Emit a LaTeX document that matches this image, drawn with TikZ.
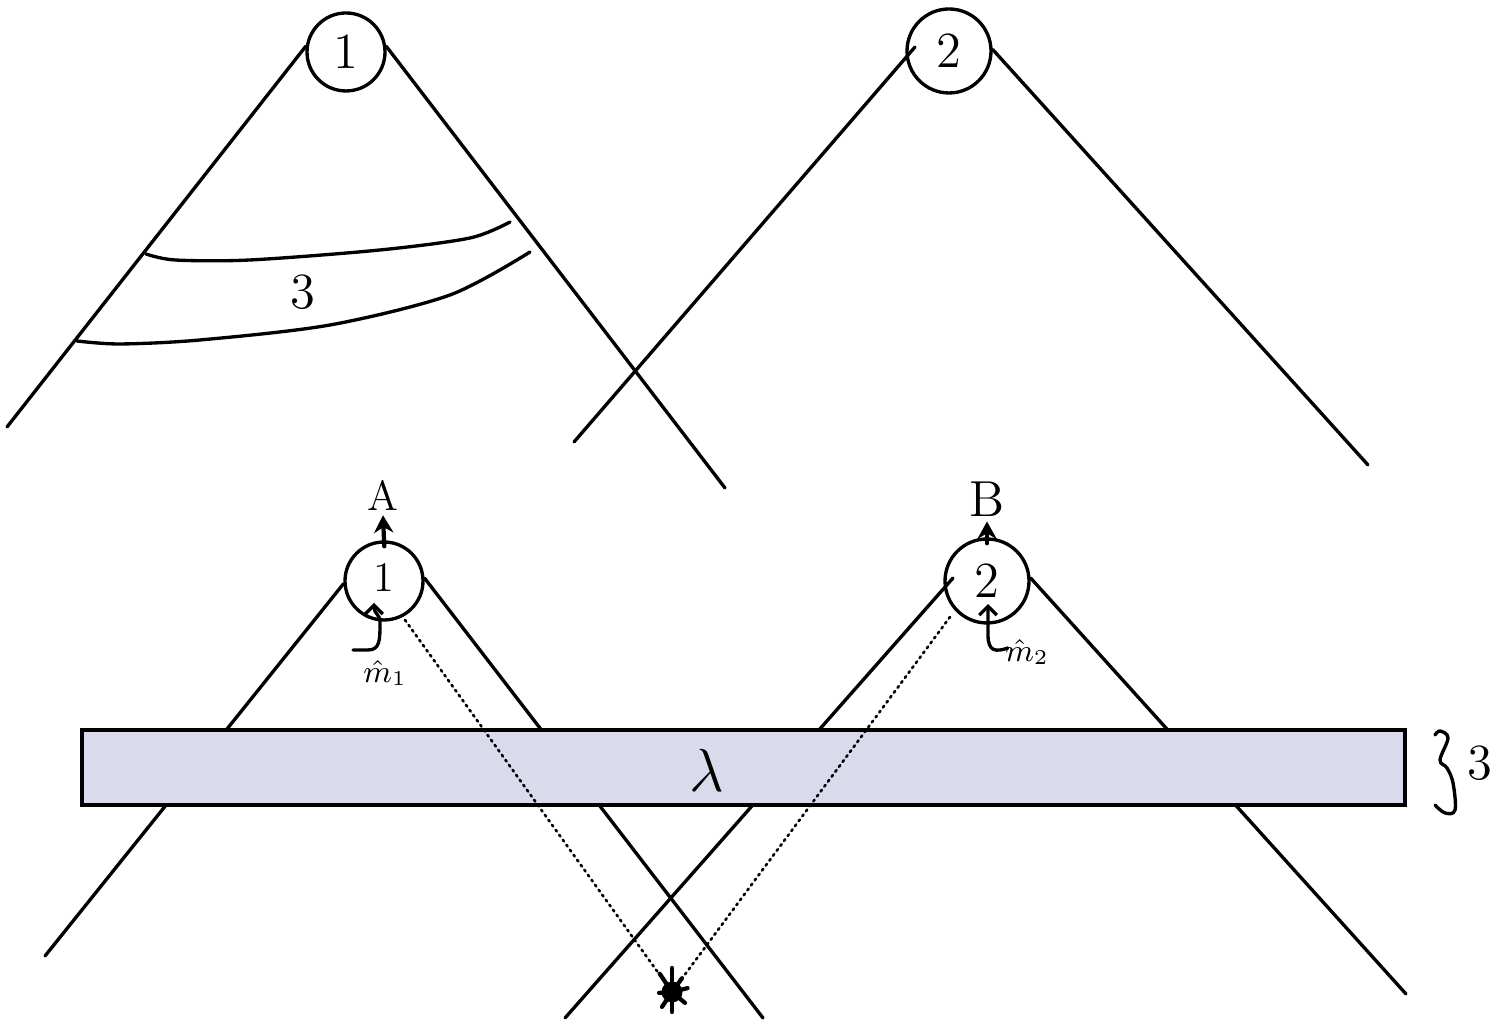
\documentclass[tikz,border=0pt]{standalone}
\usepackage{xcolor}
\usetikzlibrary{arrows.meta, positioning}
\definecolor{BarBlue}{RGB}{217,219,236}

\begin{document}
\begin{tikzpicture}[
          line width=0.95pt, line cap=round,
          ball/.style={circle, draw, inner sep=0pt, font=\Large},
          tag/.style={inner sep=1pt, font=\Large},
          hatlabel/.style={inner sep=0pt, font=\small},
          arr/.style={-{Stealth[length=5pt, width=5.5pt]}, line width=1.2pt},
          hook/.style={-{Straight Barb[length=2.5pt, width=5pt]}},
          ray/.style={densely dotted, dash pattern=on 0.55pt off 1.2pt, line width=0.75pt},
          spike/.style={line width=1.2pt}
        ]
        \useasboundingbox (0,0) rectangle (15.05,10.2);

        % upper pair
        \node[ball, minimum size=0.78cm] (top1) at (3.46, 9.68) {1};
        \node[ball, minimum size=0.84cm] (top2) at (9.49, 9.69) {2};
        \coordinate (topA) at (0.07, 5.93);
        \coordinate (topB) at (7.25, 5.32);
        \coordinate (topC) at (5.74, 5.78);
        \coordinate (topD) at (13.68, 5.55);
        \coordinate (topE) at (9.15, 9.73);
        \draw (top1.172) -- (topA);
        \draw (top1.8) -- (topB);
        \draw (topE) -- (topC);
        \draw (top2.2) -- (topD);

        % region 3 between the two curves
        \draw plot[smooth, tension=0.5] coordinates {(1.46,7.66) (1.75,7.60) (2.50,7.60)
              (3.80,7.70) (4.70,7.82) (5.10,7.98)};
        \draw plot[smooth, tension=0.5] coordinates {(0.77,6.79) (1.20,6.76) (2.00,6.80)
              (3.30,6.95) (4.50,7.25) (5.30,7.68)};
        \node[tag] (three) at (3.03, 7.28) {3};

        % lower pair
        \node[ball, minimum size=0.78cm, font=\large] (low1) at (3.84, 4.39) {\raisebox{2pt}{1}};
        \node[ball, minimum size=0.84cm] (low2) at (9.87, 4.39) {2};
        \coordinate (lowA) at (0.45, 0.64);
        \coordinate (lowB) at (7.63, 0.02);
        \coordinate (lowC) at (5.65, 0.02);
        \coordinate (lowD) at (14.06, 0.26);
        \coordinate (lowE) at (9.53, 4.42);
        \draw (low1.184) -- (lowA);
        \draw (low1.4) -- (lowB);
        \draw (lowE) -- (lowC);
        \draw (low2.4) -- (lowD);

        % the band
        \node[draw, fill=BarBlue, inner sep=0pt, minimum width=13.23cm,
              minimum height=0.75cm] (band) at (7.435, 2.525) {};
        \node[tag, font=\LARGE] (lam) at (7.07, 2.50) {$\lambda$};

        % outgoing momenta
        \node[tag, font=\large] (labA) at (3.83, 5.25) {A};
        \node[tag] (labB) at (9.87, 5.21) {B};
        \draw[arr, shorten <=-0.06cm] (low1.north) -- (labA.south);
        \draw[arr, shorten <=-0.06cm] (low2.north) -- (labB.south);

        % normals
        \coordinate (hookA) at (3.53, 3.70);
        \coordinate (tipA) at (3.74, 4.17);
        \coordinate (hookB) at (10.08, 3.72);
        \coordinate (tipB) at (9.88, 4.16);
        \draw[hook] (hookA) -- (3.68,3.70) .. controls (3.80,3.70) and (3.80,3.80) .. (3.80,3.98)
              .. controls (3.80,4.06) and (3.74,4.06) .. (tipA);
        \draw[hook] (hookB) .. controls (9.96,3.68) and (9.88,3.68) .. (9.88,3.85) -- (tipB);
        \node[hatlabel] (mA) at (3.85, 3.47) {$\hat{m}_1$};
        \node[hatlabel] (mB) at (10.27, 3.68) {$\hat{m}_2$};

        % collision point
        \node[circle, fill=black, inner sep=0pt, minimum size=0.21cm] (hit) at (6.72, 0.28) {};
        \foreach \ang/\len in {90/0.24, 124/0.22, 184/0.13, 236/0.18,
                               270/0.20, 320/0.17, 14/0.16, 54/0.17} {
          \draw[spike] (hit.center) -- ++(\ang:\len);
        }
        \coordinate (rayA) at (4.05, 4.00);
        \coordinate (rayB) at (9.50, 4.03);
        \draw[ray] (rayA) -- (hit);
        \draw[ray] (rayB) -- (hit);

        % brace beside the band
        \draw plot[smooth, tension=0.6] coordinates {(14.35,2.85) (14.40,2.89) (14.48,2.82)
              (14.40,2.60) (14.47,2.52) (14.53,2.37) (14.55,2.10) (14.45,2.07) (14.35,2.15)};
        \node[tag] (three2) at (14.80, 2.57) {3};
      \end{tikzpicture}
\end{document}
